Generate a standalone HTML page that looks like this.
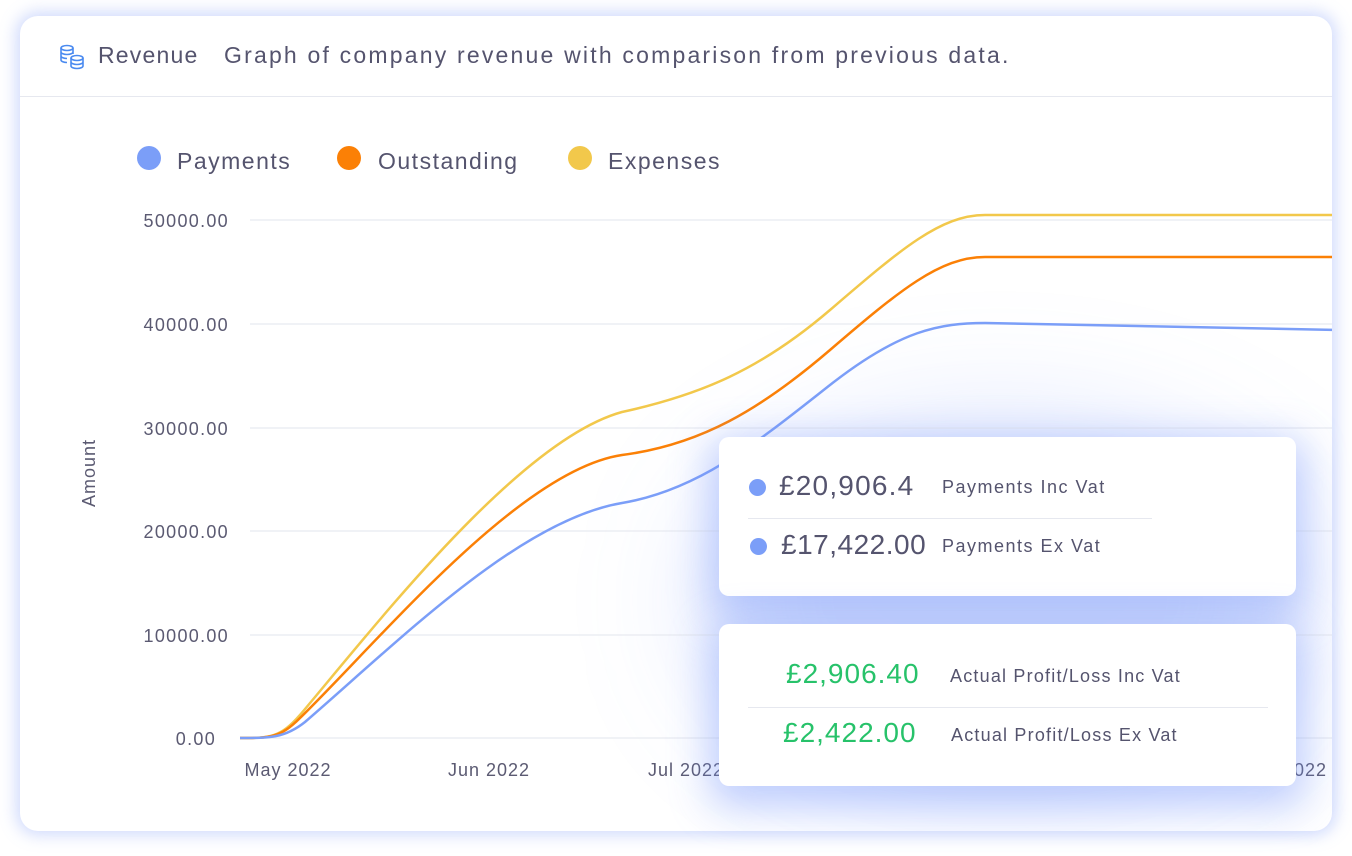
<!DOCTYPE html>
<html><head><style>
body{margin:0;width:1352px;height:856px;background:#fff;font-family:"Liberation Sans",sans-serif;position:relative;overflow:hidden}
.card{position:absolute;left:20px;top:16px;width:1312px;height:815px;background:#fff;border-radius:18px;box-shadow:0 0 16px 4px rgba(120,150,245,.35);overflow:hidden}
.t{position:absolute;color:#55546e;white-space:nowrap}
.tip{position:absolute;left:719px;width:577px;background:#fff;border-radius:10px;box-shadow:0 12px 40px 10px rgba(120,150,250,.45)}
.dot{position:absolute;width:17px;height:17px;border-radius:50%}
</style></head><body>
<div class="card">
<div style="position:absolute;left:0;top:80px;width:100%;height:1px;background:#e6e8ef"></div>
<svg width="1312" height="815" style="position:absolute;left:0;top:0">
<defs><filter id="b" x="-50%" y="-50%" width="200%" height="200%"><feGaussianBlur stdDeviation="60"/></filter></defs>
<g transform="translate(-20,-16)">
<ellipse cx="1000" cy="600" rx="300" ry="180" fill="rgba(140,165,250,.3)" filter="url(#b)"/>
<g stroke="#e8eaf0" stroke-width="1.2">
<line x1="250" y1="220" x2="1340" y2="220"/><line x1="250" y1="324" x2="1340" y2="324"/><line x1="250" y1="428" x2="1340" y2="428"/><line x1="250" y1="531" x2="1340" y2="531"/><line x1="250" y1="635" x2="1340" y2="635"/><line x1="240" y1="738" x2="1340" y2="738"/></g>
<g fill="none" stroke-width="2.5">
<path stroke="#f2c84b" d="M240,738 C270,738 280,738 300,715 C380,620 520,440 622,412 C700,395 760,370 830,310 C900,250 940,215 985,215 L1340,215"/>
<path stroke="#fb8006" d="M240,738 C270,738 280,738 300,718 C380,640 520,470 622,455 C700,445 760,410 830,350 C900,290 940,257 985,257 L1340,257"/>
<path stroke="#7b9ef8" d="M240,738 C270,738 285,738 305,722 C400,640 520,520 622,503 C700,490 760,440 830,385 C900,330 940,323 985,323 L1340,330"/>
</g>
<g fill="#5b5a72" font-size="18" font-family="Liberation Sans" text-anchor="end" letter-spacing="1.3">
<text x="229" y="227">50000.00</text><text x="229" y="331">40000.00</text><text x="229" y="435">30000.00</text><text x="229" y="538">20000.00</text><text x="229" y="642">10000.00</text><text x="216" y="745">0.00</text></g>
<g fill="#5b5a72" font-size="18" font-family="Liberation Sans" text-anchor="middle" letter-spacing="1">
<text x="288" y="776">May 2022</text><text x="489" y="776">Jun 2022</text><text x="686" y="776">Jul 2022</text><text x="1305" y="776">2022</text></g>
<text transform="translate(95,473) rotate(-90)" fill="#5b5a72" font-size="18" text-anchor="middle" letter-spacing="1">Amount</text>
</g></svg>
<svg style="position:absolute;left:38px;top:27px" width="28" height="28" viewBox="0 0 28 28" fill="none" stroke="#4a8af0" stroke-width="1.6"><ellipse cx="9" cy="5" rx="6" ry="2.5"/><path d="M3 5v12c0 1.4 2.7 2.5 6 2.5M15 5v6M3 9c0 1.4 2.7 2.5 6 2.5s6-1.1 6-2.5M3 13c0 1.4 2.7 2.5 6 2.5"/><ellipse cx="19" cy="15" rx="6" ry="2.5"/><path d="M13 15v8c0 1.4 2.7 2.5 6 2.5s6-1.1 6-2.5v-8M13 19c0 1.4 2.7 2.5 6 2.5s6-1.1 6-2.5"/></svg>
<div class="t" style="left:78px;top:26px;font-size:23px;letter-spacing:1.2px">Revenue</div>
<div class="t" style="left:204px;top:26px;font-size:23px;letter-spacing:2.2px">Graph of company revenue with comparison from previous data.</div>
<div class="dot" style="left:117px;top:130px;width:24px;height:24px;background:#7b9ef8"></div>
<div class="t" style="left:157px;top:132px;font-size:23px;letter-spacing:1.5px">Payments</div>
<div class="dot" style="left:317px;top:130px;width:24px;height:24px;background:#fb8006"></div>
<div class="t" style="left:358px;top:132px;font-size:23px;letter-spacing:1.5px">Outstanding</div>
<div class="dot" style="left:548px;top:130px;width:24px;height:24px;background:#f2c84b"></div>
<div class="t" style="left:588px;top:132px;font-size:23px;letter-spacing:1.5px">Expenses</div>
</div>
<div class="tip" style="top:437px;height:159px">
<div class="dot" style="left:30px;top:42px;background:#7b9ef8"></div>
<div class="t" style="left:60px;top:33px;font-size:28px;letter-spacing:1.2px">£20,906.4</div>
<div class="t" style="left:223px;top:40px;font-size:18px;letter-spacing:1.5px">Payments Inc Vat</div>
<div style="position:absolute;left:29px;top:81px;width:404px;height:1px;background:#e6e8ef"></div>
<div class="dot" style="left:31px;top:101px;background:#7b9ef8"></div>
<div class="t" style="left:62px;top:92px;font-size:28px;letter-spacing:0.5px">£17,422.00</div>
<div class="t" style="left:223px;top:99px;font-size:18px;letter-spacing:1.5px">Payments Ex Vat</div>
</div>
<div class="tip" style="top:624px;height:162px">
<div class="t" style="left:67px;top:34px;font-size:28px;color:#27c26a;letter-spacing:1px">£2,906.40</div>
<div class="t" style="left:231px;top:42px;font-size:18px;letter-spacing:1.2px">Actual Profit/Loss Inc Vat</div>
<div style="position:absolute;left:29px;top:83px;width:520px;height:1px;background:#e6e8ef"></div>
<div class="t" style="left:64px;top:93px;font-size:28px;color:#27c26a;letter-spacing:1px">£2,422.00</div>
<div class="t" style="left:232px;top:101px;font-size:18px;letter-spacing:1.2px">Actual Profit/Loss Ex Vat</div>
</div>
</body></html>
